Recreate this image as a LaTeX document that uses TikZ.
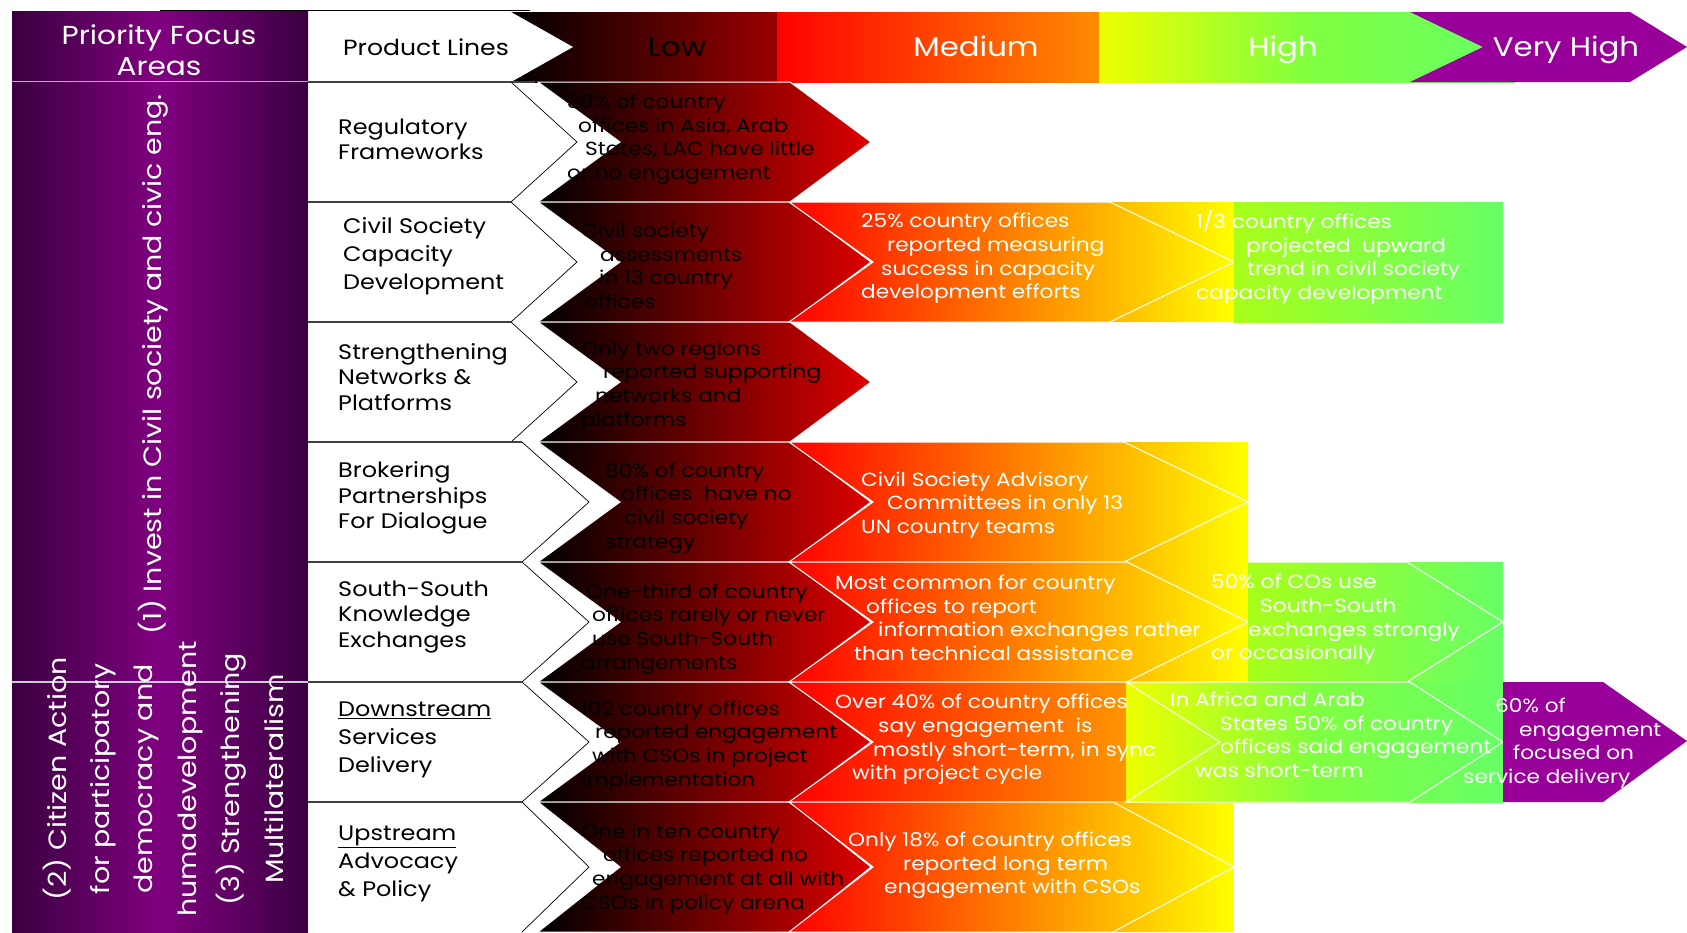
\documentclass[tikz,border=0pt]{standalone}
\usepackage{fontspec}
\setmainfont{Poppins}[FakeStretch=1.14]
\definecolor{pdark}{HTML}{3A0040}
\definecolor{pmid}{HTML}{800080}
\definecolor{vhigh}{HTML}{990099}
\definecolor{lowend}{HTML}{DD0000}
\definecolor{hdlowend}{HTML}{990000}
\definecolor{orng}{HTML}{FF8C00}
\definecolor{orng2}{HTML}{FF9600}
\definecolor{grn}{HTML}{66FF66}
\definecolor{ygrn}{HTML}{A8FF1A}
\definecolor{yg0}{HTML}{EEFF00}
\definecolor{ygmid}{HTML}{80FF40}
\definecolor{lav}{HTML}{C8A0C8}
\definecolor{lav2}{HTML}{D0C8D8}
\newcommand\myind[1]{\hspace*{#1pt}}
\begin{document}
\begin{tikzpicture}[x=1pt,y=-1pt,
  lowtxt/.style={font=\fontsize{19}{23.6}\selectfont, text=black, align=left, inner sep=0pt, anchor=west},
  medtxt/.style={lowtxt, text=white},
  prodtxt/.style={font=\fontsize{21}{25.5}\selectfont, text=black, align=left, inner sep=0pt, anchor=west},
  prodwide/.style={prodtxt, font=\fontsize{21}{28}\selectfont},
  hdrtxt/.style={font=\fontsize{27}{32}\selectfont, inner sep=0pt, text=white, anchor=base},
  vtxt/.style={font=\fontsize{25}{43.4}\selectfont, text=white, rotate=90, align=center, inner sep=0pt},
  whiteline/.style={draw=white, line width=1pt, line join=miter},
  sepline/.style={draw=black!75, line width=1.3pt},
  tipline/.style={draw=black, line width=0.7pt},
]
\fill[white] (0,0) rectangle (1687,932);
\useasboundingbox (0,0) rectangle (1687,932);

% ---------- header row ----------
\path[left color=black, right color=hdlowend] (509,12) rectangle (777,82);
\path[left color=red, right color=orng] (777,12) rectangle (1099,82);
\path[left color=yg0, right color=grn, middle color=ygmid] (1099,12) rectangle (1515,82);
\fill[vhigh] (1410,12) -- (1630,12) -- (1687,47) -- (1630,82) -- (1410,82) -- (1483,47) -- cycle;
\fill[white] (308,12) -- (511,12) -- (573,47) -- (511,82) -- (308,82) -- cycle;
\draw[black, line width=0.8pt] (160,10) -- (530,10);
\draw[sepline] (308,82) -- (535,82);

% ---------- left column ----------
\path[left color=pdark, right color=pdark, middle color=pmid] (12,11) rectangle (308,81);
\path[left color=pdark, right color=pdark, middle color=pmid] (12,82) rectangle (308,932);
\draw[draw=lav, line width=1.5pt] (12,81.5) -- (308,81.5);
\draw[draw=lav2, line width=1.2pt] (12,682) -- (308,682);
\draw[black, line width=0.8pt] (308,682) -- (308,932);

% ---------- product arrows ----------
\foreach \ya/\yb/\yc/\xa/\xp in {82/202/142/511/577, 202/322/262/511/577, 322/442/382/511/577,
  442/562/502/522/589, 562/682/622/522/589, 682/802/742/522/589, 802/932/867/522/589} {
  \fill[white] (308,\ya) -- (\xa,\ya) -- (\xp,\yc) -- (\xa,\yb) -- (308,\yb) -- cycle;
  \draw[tipline] (\xa,\ya) -- (\xp,\yc) -- (\xa,\yb);
  \draw[sepline] (308,\ya) -- (\xa,\ya);
}

% ---------- low chevrons ----------
\foreach \ya/\yb/\yc in {82/202/142, 202/322/262, 322/442/382, 442/562/502, 562/682/622, 682/802/742, 802/932/867} {
  \path[draw=white, line width=1pt, left color=black, right color=lowend]
    (538,\ya) -- (790,\ya) -- (871,\yc) -- (790,\yb) -- (538,\yb) -- (620,\yc) -- cycle;
}

% ---------- medium chevrons ----------
\foreach \ya/\yb/\yc/\xe/\xq/\xk/\endcol in {202/322/262/1234/1110/1234/yellow, 442/562/502/1248/1124/1248/yellow,
  562/682/622/1248/1127/1248/yellow, 682/802/742/1127/1127/1248/orng2, 802/932/867/1234/1113/1234/yellow} {
  \path[left color=red, right color=\endcol] (789,\ya) -- (\xe,\ya) -- (\xe,\yb) -- (789,\yb) -- (873,\yc) -- cycle;
  \draw[whiteline] (789,\ya) -- (\xq,\ya) -- (\xk,\yc) -- (\xq,\yb) -- (789,\yb) -- (873,\yc) -- cycle;
}

% ---------- high ----------
\path[left color=ygrn, right color=grn] (1234,202) rectangle (1503,322);
\path[left color=ygrn, right color=grn] (1248,562) rectangle (1503,682);
\draw[whiteline] (1248,562) -- (1407,562) -- (1503,622) -- (1407,682) -- (1248,682);
\path[left color=yg0, right color=grn, middle color=ygmid] (1126,682) rectangle (1503,802);
\draw[whiteline] (1126,682) -- (1410,682) -- (1503,742) -- (1410,802) -- (1126,802) -- (1220,742) -- cycle;
\fill[vhigh] (1503,682) -- (1603,682) -- (1687,741) -- (1603,802) -- (1503,802) -- cycle;

% ---------- header texts ----------
\node[font=\fontsize{26}{31}\selectfont, text=white, inner sep=0pt, align=center] (pfa) at (159,50) {Priority Focus\\Areas};
\node[prodtxt, font=\fontsize{22}{26}\selectfont] (pl) at (343,47) {Product Lines};
\node[hdrtxt, text=black] (low) at (677,56) {Low};
\node[hdrtxt] (med) at (976,56) {Medium};
\node[hdrtxt] (high) at (1283,56) {High};
\node[hdrtxt] (vh) at (1566,56) {Very High};

% ---------- vertical texts ----------
\begin{scope}
\clip (12,82) rectangle (308,682);
\node[vtxt, anchor=west] (inv) at (153,635) {(1) Invest in Civil society and civic eng.};
\end{scope}
\node[vtxt] (cit) at (163,779) {(2) Citizen Action\\for participatory\\democracy and\\humadevelopment\\(3) Strengthening\\Multilateralism};

% ---------- product texts ----------
\node[prodtxt] (p1) at (338,139.5) {Regulatory\\Frameworks};
\node[prodwide] (p2) at (343,256) {Civil Society\\Capacity\\Development};
\node[prodtxt] (p3) at (338,377) {Strengthening\\Networks \&\\Platforms};
\node[prodtxt] (p4) at (338,498) {Brokering\\Partnerships\\For Dialogue};
\node[prodtxt] (p5) at (338,617) {South-South\\Knowledge\\Exchanges};
\node[prodwide] (p6) at (338,740) {\underline{Downstream}\\Services\\Delivery};
\node[prodwide] (p7) at (338,864) {\underline{Upstream}\\Advocacy\\\& Policy};

% ---------- low texts ----------
\node[lowtxt] (l1) at (567,139.5) {30\% of country\\\myind{11}offices in Asia, Arab\\\myind{18}States, LAC have little\\or no engagement};
\node[lowtxt] (l2) at (581,266) {Civil society\\\myind{19}assessments\\\myind{18}in 13 country\\\myind{3}offices};
\node[lowtxt] (l3) at (581,386) {Only two regions\\\myind{22}reported supporting\\\myind{14}networks and\\platforms};
\node[lowtxt] (l4) at (605,508) {80\% of country\\\myind{16}offices\ \ have no\\\myind{19}civil society\\strategy};
\node[lowtxt] (l5) at (581,629) {\myind{5}One-third of country\\\myind{11}offices rarely or never\\\myind{11}use South-South\\arrangements};
\node[lowtxt] (l6) at (581,746) {102 country offices\\\myind{14}reported engagement\\\myind{11}with CSOs in project\\implementation};
\node[lowtxt] (l7) at (581,869) {One in ten country\\\myind{22}offices reported no\\\myind{11}engagement at all with\\CSOs in policy arena};

% ---------- medium / high texts ----------
\node[medtxt] (m2) at (861,258.5) {25\% country offices\\\myind{26}reported measuring\\\myind{20}success in capacity\\development efforts};
\node[medtxt] (h2) at (1196,257.5) {1/3 country offices\\\myind{50}projected\ \ upward\\\myind{51}trend in civil society\\capacity development};
\node[medtxt] (m4) at (861,505) {Civil Society Advisory\\\myind{26}Committees in only 13\\UN country teams};
\node[medtxt] (m5) at (835,618) {Most common for country\\\myind{31}offices to report\\\myind{43}information exchanges rather\\\myind{19}than technical assistance};
\node[medtxt] (h5) at (1211,619.5) {50\% of COs use\\\myind{49}South-South\\\myind{37}exchanges strongly\\or occasionally};
\node[medtxt] (m6) at (835,739.5) {Over 40\% of country offices\\\myind{43}say engagement\ \ is\\\myind{38}mostly short-term, in sync\\\myind{17}with project cycle};
\node[medtxt] (h6) at (1170,735) {In Africa and Arab\\\myind{50}States 50\% of country\\\myind{50}offices said engagement\\\myind{25}was short-term};
\node[medtxt] (v6) at (1463,743) {\myind{32}60\% of\\\myind{56}engagement\\\myind{50}focused on\\service delivery};
\node[medtxt] (m7) at (848,865.5) {Only 18\% of country offices\\\myind{55}reported long term\\\myind{36}engagement with CSOs};
\end{tikzpicture}
\end{document}
